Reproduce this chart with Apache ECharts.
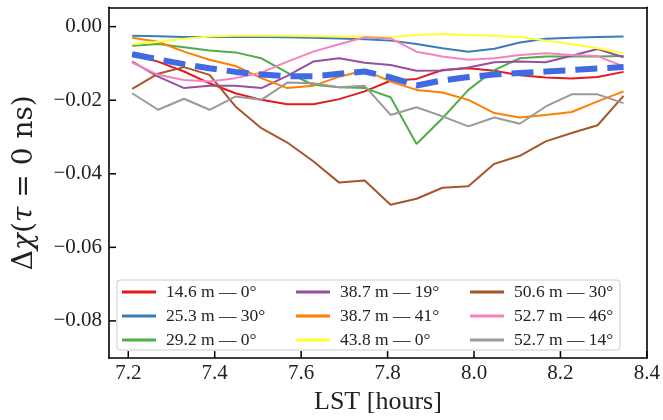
<!DOCTYPE html>
<html><head><meta charset="utf-8">
<script src="https://cdn.jsdelivr.net/npm/echarts@6/dist/echarts.min.js"></script>
<style>html,body{margin:0;padding:0;background:#fff}#c{width:663px;height:420px}</style>
</head><body><div id="c"></div>
<script>
const lst = [7.209, 7.269, 7.329, 7.388, 7.448, 7.508, 7.568, 7.628, 7.688, 7.747, 7.807, 7.867, 7.927, 7.987, 8.047, 8.106, 8.166, 8.226, 8.286, 8.346];
const names = ['14.6 m — 0°','25.3 m — 30°','29.2 m — 0°','38.7 m — 19°','38.7 m — 41°','43.8 m — 0°','50.6 m — 30°','52.7 m — 46°','52.7 m — 14°'];
const colors = ['#e41a1c','#377eb8','#4daf4a','#984ea3','#ff7f00','#ffff33','#a65628','#f781bf','#999999'];
const red    = [-0.0075,-0.0095,-0.0122,-0.0154,-0.0181,-0.0199,-0.0211,-0.0211,-0.0197,-0.0176,-0.0147,-0.0142,-0.0118,-0.0113,-0.0120,-0.0132,-0.0138,-0.0141,-0.0137,-0.0123];
const blue   = [-0.0025,-0.0026,-0.0028,-0.0028,-0.0028,-0.0028,-0.0029,-0.0030,-0.0032,-0.0034,-0.0038,-0.0047,-0.0059,-0.0068,-0.0060,-0.0043,-0.0033,-0.0030,-0.0028,-0.0027];
const green  = [-0.0052,-0.0047,-0.0056,-0.0065,-0.0070,-0.0086,-0.0125,-0.0158,-0.0165,-0.0167,-0.0192,-0.0319,-0.0249,-0.0172,-0.0118,-0.0086,-0.0081,-0.0081,-0.0081,-0.0080];
const purple = [-0.0095,-0.0136,-0.0167,-0.0161,-0.0161,-0.0167,-0.0134,-0.0095,-0.0086,-0.0098,-0.0104,-0.0120,-0.0119,-0.0111,-0.0097,-0.0095,-0.0097,-0.0079,-0.0061,-0.0083];
const orange = [-0.0030,-0.0041,-0.0068,-0.0090,-0.0107,-0.0140,-0.0167,-0.0161,-0.0136,-0.0119,-0.0149,-0.0172,-0.0179,-0.0199,-0.0235,-0.0247,-0.0240,-0.0232,-0.0203,-0.0176];
const yellow = [-0.0048,-0.0041,-0.0033,-0.0027,-0.0025,-0.0025,-0.0025,-0.0026,-0.0027,-0.0027,-0.0029,-0.0023,-0.0020,-0.0023,-0.0025,-0.0028,-0.0038,-0.0048,-0.0059,-0.0072];
const brown  = [-0.0169,-0.0128,-0.0110,-0.0131,-0.0217,-0.0276,-0.0315,-0.0366,-0.0424,-0.0418,-0.0484,-0.0468,-0.0438,-0.0434,-0.0373,-0.0351,-0.0312,-0.0289,-0.0268,-0.0188];
const pink   = [-0.0098,-0.0131,-0.0145,-0.0149,-0.0140,-0.0125,-0.0095,-0.0068,-0.0048,-0.0029,-0.0032,-0.0068,-0.0081,-0.0090,-0.0086,-0.0077,-0.0072,-0.0077,-0.0080,-0.0108];
const gray   = [-0.0181,-0.0226,-0.0196,-0.0226,-0.0190,-0.0199,-0.0152,-0.0154,-0.0165,-0.0161,-0.0240,-0.0219,-0.0244,-0.0271,-0.0247,-0.0264,-0.0217,-0.0184,-0.0184,-0.0208];
const mean   = [-0.0075,-0.0089,-0.0102,-0.0113,-0.0123,-0.0130,-0.0135,-0.0135,-0.0128,-0.0122,-0.0138,-0.0160,-0.0146,-0.0137,-0.0130,-0.0126,-0.0122,-0.0118,-0.0114,-0.0110];
const xTicks = [7.2, 7.4, 7.6, 7.8, 8.0, 8.2, 8.4];
const yTicks = [0, -0.02, -0.04, -0.06, -0.08];

const allSeries = [red, blue, green, purple, orange, yellow, brown, pink, gray];
const FONT = 'Liberation Serif';
const X_MIN = 7.1554, X_MAX = 8.4, Y_MIN = -0.09011, Y_MAX = 0.00526;
const TICK = 7, TICKW = 1.5;

const chart = echarts.init(document.getElementById('c'), null, {renderer: 'canvas'});
const series = allSeries.map((arr, i) => ({
  name: names[i], type: 'line', showSymbol: false, symbol: 'none',
  data: lst.map((x, j) => [x, arr[j]]),
  lineStyle: {color: colors[i], width: 2}, itemStyle: {color: colors[i]},
  z: 2, animation: false
}));
series.push({
  name: 'mean', type: 'line', symbol: 'none', showSymbol: false,
  data: lst.map((x, j) => [x, mean[j]]),
  lineStyle: {color: '#4169e1', width: 6, type: [22, 10], cap: 'butt'},
  z: 3, animation: false
});
const legendCols = [[0,1,2],[3,4,5],[6,7,8]];
const legendLeft = [122, 296, 470];
const legends = legendCols.map((col, k) => ({
  orient: 'vertical', left: legendLeft[k], top: 283,
  data: col.map(i => ({name: names[i], icon: 'rect', itemStyle: {color: colors[i]}})),
  itemWidth: 34, itemHeight: 3, itemGap: 6, padding: 0,
  selectedMode: false,
  textStyle: {fontFamily: FONT, fontSize: 17.5, color: '#222', lineHeight: 16, padding: [0,0,0,5]},
  z: 10
}));
const frameLine = {show: true, onZero: false, lineStyle: {color: '#000', width: 1.6}};
const hidden = {axisTick: {show: false}, axisLabel: {show: false}, splitLine: {show: false}};
chart.setOption({
  animation: false,
  grid: {left: 109, right: 15.3, top: 7.3, bottom: 61, show: false},
  xAxis: [{
    type: 'value', min: X_MIN, max: X_MAX, position: 'bottom',
    name: 'LST [hours]', nameLocation: 'middle', nameGap: 25,
    nameTextStyle: {fontFamily: FONT, fontSize: 26, color: '#222'},
    axisLine: frameLine, axisTick: {show: false},
    axisLabel: {customValues: xTicks, margin: 5, fontFamily: FONT, fontSize: 21, color: '#222', formatter: v => v.toFixed(1)},
    splitLine: {show: false}
  }, {
    type: 'value', min: X_MIN, max: X_MAX, position: 'top',
    axisLine: frameLine, ...hidden
  }],
  yAxis: [{
    type: 'value', min: Y_MIN, max: Y_MAX, position: 'left',
    name: 'Δ{i|χ}({i|τ} = 0 ns)', nameLocation: 'middle', nameRotate: 90, nameGap: 70,
    nameTextStyle: {fontFamily: 'DejaVu Serif', fontSize: 28, color: '#222', rich: {i: {fontFamily: 'DejaVu Serif', fontSize: 28, fontStyle: 'italic', color: '#222'}}},
    axisLine: frameLine, axisTick: {show: false},
    axisLabel: {customValues: yTicks, margin: 7, fontFamily: FONT, fontSize: 21, color: '#222',
      formatter: v => (v < -1e-9 ? '\u2212' : '') + Math.abs(v).toFixed(2)},
    splitLine: {show: false}
  }, {
    type: 'value', min: Y_MIN, max: Y_MAX, position: 'right',
    axisLine: frameLine, ...hidden
  }],
  legend: legends,
  graphic: [{id: 'legendBox', type: 'rect', shape: {x: 117, y: 280, width: 503, height: 70, r: 3}, style: {fill: 'rgba(255,255,255,0.8)', stroke: '#cccccc', lineWidth: 1}, z: 5}],
  series: series
});

// inward tick marks, positioned through the chart's own axis scales
const toPx = p => chart.convertToPixel({xAxisIndex: 0, yAxisIndex: 0}, p);
const tickEls = [];
xTicks.forEach((v, k) => {
  const p = toPx([v, Y_MIN]);
  tickEls.push({id: 'xt' + k, type: 'line', shape: {x1: p[0], y1: p[1], x2: p[0], y2: p[1] - TICK},
    style: {stroke: '#000', lineWidth: TICKW}, z: 50, silent: true});
});
yTicks.forEach((v, k) => {
  const p = toPx([X_MIN, v]);
  tickEls.push({id: 'yt' + k, type: 'line', shape: {x1: p[0], y1: p[1], x2: p[0] + TICK, y2: p[1]},
    style: {stroke: '#000', lineWidth: TICKW}, z: 50, silent: true});
});
chart.setOption({graphic: tickEls});
</script></body></html>
